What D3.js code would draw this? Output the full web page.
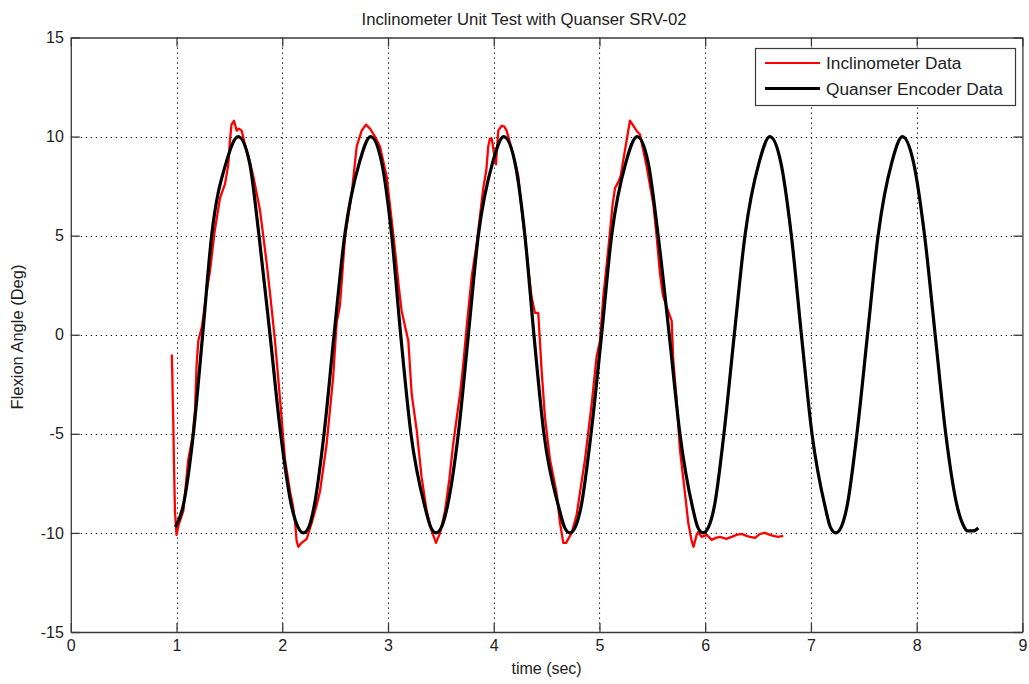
<!DOCTYPE html>
<html>
<head>
<meta charset="utf-8">
<script src="https://cdn.jsdelivr.net/npm/d3@7"></script>
<style>
  body { margin: 0; background: #fff; }
  svg { display: block; font-family: "Liberation Sans", Arial, sans-serif; }
</style>
</head>
<body>
<svg id="chart" width="1029" height="684"></svg>
<script>
// values
let chartTitle = "Inclinometer Unit Test with Quanser SRV-02";
let xLabel = "time (sec)";
let yLabel = "Flexion Angle (Deg)";
let xTicks = [0, 1, 2, 3, 4, 5, 6, 7, 8, 9];
let yTicks = [-15, -10, -5, 0, 5, 10, 15];
let seriesNames = ["Inclinometer Data", "Quanser Encoder Data"];
let seriesColors = ["#ff0000", "#000000"];

// [time, angle]
let encoderData = [
  [0.99, -9.7], [1.06, -8.7], [1.159, -5], [1.247, 0], [1.332, 5], [1.47, 8.7], [1.584, 10],
  [1.69, 8.7], [1.78, 5], [1.884, 0], [1.985, -5], [2.09, -8.7], [2.15, -9.72], [2.2, -10], [2.25, -9.72],
  [2.3, -8.7], [2.395, -5], [2.49, 0], [2.59, 5], [2.73, 8.7], [2.836, 10],
  [2.94, 8.7], [3.035, 5], [3.12, 0], [3.217, -5], [3.35, -8.7], [3.405, -9.72], [3.455, -10], [3.505, -9.72],
  [3.56, -8.7], [3.665, -5], [3.76, 0], [3.854, 5], [3.99, 8.7], [4.095, 10],
  [4.2, 8.7], [4.295, 5], [4.38, 0], [4.475, -5], [4.615, -8.7], [4.67, -9.72], [4.72, -10], [4.77, -9.72],
  [4.825, -8.7], [4.92, -5], [5.02, 0], [5.115, 5], [5.25, 8.7], [5.357, 10],
  [5.46, 8.7], [5.555, 5], [5.66, 0], [5.761, -5], [5.88, -8.7], [5.93, -9.72], [5.98, -10], [6.03, -9.72],
  [6.085, -8.7], [6.177, -5], [6.275, 0], [6.376, 5], [6.51, 8.7], [6.612, 10],
  [6.715, 8.7], [6.815, 5], [6.91, 0], [7.01, -5], [7.135, -8.7], [7.185, -9.72], [7.235, -10], [7.285, -9.72],
  [7.34, -8.7], [7.435, -5], [7.535, 0], [7.635, 5], [7.765, 8.7], [7.866, 10],
  [7.97, 8.7], [8.075, 5], [8.175, 0], [8.275, -5], [8.385, -8.7], [8.44, -9.6], [8.48, -9.9], [8.535, -9.9], [8.583, -9.75]
];

let inclinometerData = [
  [0.955, -1.0], [0.96, -2.0], [0.965, -3.5], [0.97, -4.6], [0.975, -6.3], [0.985, -8.9], [1.0, -10.1],
  [1.02, -9.6], [1.064, -8.9], [1.111, -6.3], [1.15, -5.2], [1.175, -3.8], [1.19, -1.5], [1.206, -0.3],
  [1.24, 0.4], [1.28, 2.0], [1.316, 3.2], [1.36, 5.2], [1.411, 6.9], [1.458, 7.6], [1.49, 8.6],
  [1.505, 9.8], [1.52, 10.6], [1.543, 10.8], [1.569, 10.3], [1.59, 10.4], [1.616, 10.3], [1.647, 9.6],
  [1.69, 8.8], [1.726, 8.0], [1.789, 6.3], [1.82, 5.0], [1.853, 3.6], [1.89, 1.8], [1.931, -0.3],
  [1.978, -3.2], [2.026, -6.3], [2.073, -7.9], [2.1, -8.6], [2.12, -9.4], [2.136, -10.4], [2.152, -10.7],
  [2.183, -10.5], [2.231, -10.3], [2.278, -9.5], [2.32, -8.7], [2.357, -7.9], [2.42, -5.5], [2.482, -2.1],
  [2.514, 0.6], [2.546, 1.5], [2.593, 4.9], [2.656, 7.1], [2.704, 9.5], [2.751, 10.3], [2.792, 10.6],
  [2.83, 10.4], [2.877, 10.0], [2.924, 9.5], [2.987, 8.0], [3.03, 6.0], [3.066, 4.3], [3.1, 2.5],
  [3.129, 1.2], [3.192, -0.3], [3.224, -3.0], [3.271, -4.8], [3.318, -7.2], [3.366, -8.9], [3.413, -9.9],
  [3.454, -10.5], [3.492, -10.0], [3.539, -8.9], [3.58, -7.3], [3.617, -5.5], [3.65, -4.2], [3.681, -3.0],
  [3.71, -1.6], [3.744, 0.4], [3.791, 2.9], [3.839, 4.6], [3.87, 6.0], [3.901, 7.4], [3.93, 8.3],
  [3.948, 9.5], [3.964, 9.9], [3.98, 9.9], [3.996, 9.4], [4.012, 8.8], [4.021, 8.6], [4.043, 10.3],
  [4.075, 10.55], [4.1, 10.5], [4.122, 10.3], [4.185, 9.1], [4.232, 8.0], [4.26, 6.5], [4.295, 4.9],
  [4.33, 3.2], [4.358, 1.9], [4.39, 1.1], [4.421, 1.1], [4.453, -1.8], [4.485, -4.2], [4.532, -6.3],
  [4.595, -8.0], [4.627, -9.5], [4.658, -10.5], [4.684, -10.5], [4.737, -10.0], [4.784, -9.1], [4.82, -7.8],
  [4.863, -6.3], [4.926, -3.5], [4.973, -1.1], [5.005, -0.3], [5.036, 1.9], [5.083, 4.3], [5.125, 6.6],
  [5.147, 7.4], [5.178, 7.7], [5.2, 8.0], [5.225, 8.8], [5.26, 9.9], [5.288, 10.8], [5.32, 10.55],
  [5.35, 10.3], [5.383, 10.1], [5.446, 8.5], [5.509, 6.6], [5.54, 5.0], [5.572, 3.1], [5.6, 2.0],
  [5.635, 1.4], [5.683, 0.7], [5.698, -1.3], [5.73, -3.3], [5.761, -5.8], [5.809, -8.0], [5.84, -9.5],
  [5.872, -10.4], [5.89, -10.7], [5.919, -10.1], [5.934, -9.95], [5.966, -10.2], [6.014, -10.1], [6.061, -10.35],
  [6.1, -10.25], [6.14, -10.2], [6.2, -10.3], [6.25, -10.2], [6.297, -10.1], [6.345, -10.05], [6.392, -10.15],
  [6.423, -10.2], [6.471, -10.25], [6.518, -10.05], [6.566, -10.0], [6.612, -10.1], [6.644, -10.15], [6.69, -10.2],
  [6.738, -10.15]
];

let svg = d3.select("#chart");
let plotLeft = 70.8, plotRight = 1022.4, plotTop = 37.5, plotBottom = 632;

let x = d3.scaleLinear().domain([0, 9]).range([plotLeft, plotRight]);
let y = d3.scaleLinear().domain([-15, 15]).range([plotBottom, plotTop]);

svg.append("rect").attr("width", 1029).attr("height", 684).attr("fill", "#fff");

// dotted grid
let grid = svg.append("g").attr("stroke", "#000").attr("stroke-width", 1.1).attr("stroke-dasharray", "1.2,3.8");
grid.selectAll(".gx")
  .data(xTicks.slice(1, -1))
  .join("line")
  .attr("x1", d => Math.round(x(d)) + 0.5)
  .attr("x2", d => Math.round(x(d)) + 0.5)
  .attr("y1", plotTop)
  .attr("y2", plotBottom);
grid.selectAll(".gy")
  .data(yTicks.slice(1, -1))
  .join("line")
  .attr("y1", d => Math.round(y(d)) + 0.5)
  .attr("y2", d => Math.round(y(d)) + 0.5)
  .attr("x1", plotLeft)
  .attr("x2", plotRight);

// series
let line = d3.line().x(d => x(d[0])).y(d => y(d[1]));

svg.append("path")
  .datum(inclinometerData)
  .attr("fill", "none")
  .attr("stroke", seriesColors[0])
  .attr("stroke-width", 2.3)
  .attr("stroke-linejoin", "round")
  .attr("d", line);

svg.append("path")
  .datum(encoderData)
  .attr("fill", "none")
  .attr("stroke", seriesColors[1])
  .attr("stroke-width", 3.2)
  .attr("stroke-linejoin", "round")
  .attr("d", line.curve(d3.curveMonotoneX));

// axes, inward ticks on all four sides
function styleAxis(g) {
  g.selectAll("path").attr("stroke", "#3a3a3a").attr("stroke-width", 1.3);
  g.selectAll("line").attr("stroke", "#3a3a3a").attr("stroke-width", 1.3);
  g.selectAll("text").attr("fill", "#222").style("font-size", "16px").style("font-family", "Liberation Sans, Arial, sans-serif");
}

let plainNum = d => String(d);

svg.append("g")
  .attr("transform", `translate(0,${plotBottom})`)
  .call(d3.axisBottom(x).tickValues(xTicks).tickSize(-9).tickSizeOuter(0).tickPadding(8).tickFormat(plainNum))
  .call(styleAxis);

svg.append("g")
  .attr("transform", `translate(0,${plotTop})`)
  .call(d3.axisTop(x).tickValues(xTicks).tickSize(-9).tickSizeOuter(0).tickFormat(""))
  .call(styleAxis);

svg.append("g")
  .attr("transform", `translate(${plotLeft},0)`)
  .call(d3.axisLeft(y).tickValues(yTicks).tickSize(-9).tickSizeOuter(0).tickPadding(7).tickFormat(plainNum))
  .call(styleAxis);

svg.append("g")
  .attr("transform", `translate(${plotRight},0)`)
  .call(d3.axisRight(y).tickValues(yTicks).tickSize(-9).tickSizeOuter(0).tickFormat(""))
  .call(styleAxis);

// labels
svg.append("text")
  .attr("x", 524)
  .attr("y", 25)
  .attr("text-anchor", "middle")
  .attr("fill", "#222")
  .style("font-size", "16.7px")
  .text(chartTitle);

svg.append("text")
  .attr("x", (plotLeft + plotRight) / 2)
  .attr("y", 674)
  .attr("text-anchor", "middle")
  .attr("fill", "#222")
  .style("font-size", "16px")
  .text(xLabel);

svg.append("text")
  .attr("transform", "translate(23,337) rotate(-90)")
  .attr("text-anchor", "middle")
  .attr("fill", "#222")
  .style("font-size", "16.5px")
  .text(yLabel);

// legend
let legend = svg.append("g");
legend.append("rect")
  .attr("x", 755.5)
  .attr("y", 48.5)
  .attr("width", 260)
  .attr("height", 57)
  .attr("fill", "#fff")
  .attr("stroke", "#3a3a3a")
  .attr("stroke-width", 1.2);

let item = legend.selectAll(".item")
  .data(seriesNames)
  .join("g")
  .attr("transform", (d, i) => `translate(0,${63 + i * 25.5})`);

item.append("line")
  .attr("x1", 765)
  .attr("x2", 820)
  .attr("stroke", (d, i) => seriesColors[i])
  .attr("stroke-width", (d, i) => i == 0 ? 2.2 : 3);

item.append("text")
  .attr("x", 826)
  .attr("y", 6)
  .attr("fill", "#222")
  .style("font-size", "17.3px")
  .text(d => d);
</script>
</body>
</html>
